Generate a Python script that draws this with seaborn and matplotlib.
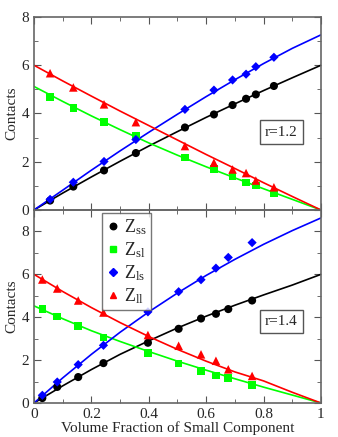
import numpy as np
import pandas as pd
import matplotlib
matplotlib.use("Agg")
import matplotlib.pyplot as plt
from matplotlib.ticker import MultipleLocator
import seaborn as sns

# --- data ---
# simulation points, r = 1.2
x12 = [0.056, 0.137, 0.244, 0.355, 0.526, 0.627, 0.692, 0.739, 0.773, 0.836]
zss12 = [0.39, 0.97, 1.64, 2.36, 3.42, 3.96, 4.35, 4.61, 4.79, 5.14]
zsl12 = [4.69, 4.24, 3.64, 3.06, 2.17, 1.71, 1.39, 1.14, 1.01, 0.69]
zls12 = [0.44, 1.15, 2.01, 2.92, 4.17, 4.97, 5.39, 5.63, 5.94, 6.33]
zll12 = [5.67, 5.08, 4.38, 3.64, 2.65, 1.96, 1.68, 1.53, 1.22, 0.94]

# simulation points, r = 1.4
x14 = [0.029, 0.081, 0.154, 0.242, 0.397, 0.504, 0.582, 0.634, 0.677, 0.760]
zss14 = [0.23, 0.75, 1.21, 1.86, 2.81, 3.46, 3.94, 4.16, 4.38, 4.78]
zsl14 = [4.38, 4.04, 3.59, 3.06, 2.33, 1.85, 1.49, 1.29, 1.18, 0.85]
zls14 = [0.36, 0.98, 1.79, 2.69, 4.25, 5.19, 5.75, 6.29, 6.79, 7.48]
zll14 = [5.76, 5.34, 4.78, 4.22, 3.17, 2.67, 2.27, 1.97, 1.57, 1.26]

# theory curves (read at x = 0, 0.1, ..., 1)
xc = [0.0, 0.1, 0.2, 0.3, 0.4, 0.5, 0.6, 0.7, 0.8, 0.9, 1.0]
css12 = [0.0, 0.70, 1.37, 2.02, 2.65, 3.25, 3.84, 4.40, 4.95, 5.48, 6.00]
csl12 = [5.12, 4.50, 3.90, 3.33, 2.78, 2.27, 1.79, 1.33, 0.88, 0.44, 0.0]
cls12 = [0.0, 0.82, 1.65, 2.45, 3.22, 3.97, 4.70, 5.40, 6.07, 6.70, 7.26]
cll12 = [6.00, 5.35, 4.72, 4.10, 3.50, 2.90, 2.30, 1.72, 1.13, 0.56, 0.0]

css14 = [0.0, 0.80, 1.56, 2.27, 2.90, 3.50, 4.05, 4.56, 5.04, 5.50, 6.00]
csl14 = [4.53, 3.93, 3.37, 2.87, 2.40, 1.95, 1.53, 1.13, 0.74, 0.37, 0.0]
cls14 = [0.0, 1.17, 2.27, 3.30, 4.25, 5.13, 5.95, 6.70, 7.40, 8.04, 8.63]
cll14 = [6.00, 5.20, 4.45, 3.75, 3.10, 2.50, 1.95, 1.45, 1.03, 0.50, 0.0]

labels = [r"Z$_{\mathrm{ss}}$", r"Z$_{\mathrm{sl}}$", r"Z$_{\mathrm{ls}}$", r"Z$_{\mathrm{ll}}$"]
colors = ["black", "#00ff00", "#0000ff", "#ff0000"]
markers = ["o", "s", "D", "^"]
msizes = [34, 30, 22, 38]

sns.set_style("ticks")
plt.rcParams["font.family"] = ["Liberation Serif", "DejaVu Serif"]
plt.rcParams["mathtext.fontset"] = "custom"
plt.rcParams["mathtext.rm"] = "Liberation Serif"
plt.rcParams["mathtext.it"] = "Liberation Serif"

fig = plt.figure(figsize=(3.38, 4.37), dpi=100)
ax1 = fig.add_axes([0.1006, 0.5195, 0.849, 0.4416])
ax2 = fig.add_axes([0.1006, 0.0778, 0.849, 0.4416])


def panel(ax, xp, pts, curves, ymax, tag, tag_y):
    for c, col in zip(curves, colors):
        sns.lineplot(x=xc, y=c, ax=ax, color=col, lw=1.2, estimator=None)
    handles = []
    for p, col, m, s, lab in zip(pts, colors, markers, msizes, labels):
        df = pd.DataFrame({"x": xp, "y": p})
        sns.scatterplot(data=df, x="x", y="y", ax=ax, color=col, marker=m,
                        s=s, edgecolor="none", zorder=3)
        handles.append(plt.Line2D([], [], ls="none", marker=m, color=col,
                                  markersize=np.sqrt(s) * 0.8, label=lab))
    ax.set_xlim(0, 1)
    ax.set_ylim(0, ymax)
    ax.xaxis.set_major_locator(MultipleLocator(0.2))
    ax.xaxis.set_minor_locator(MultipleLocator(0.1))
    ax.yaxis.set_major_locator(MultipleLocator(2))
    ax.yaxis.set_minor_locator(MultipleLocator(1))
    ax.tick_params(which="both", direction="in", top=True, right=True,
                   labelsize=11, color="#555555")
    ax.tick_params(which="major", length=5)
    ax.tick_params(which="minor", length=3)
    for sp in ax.spines.values():
        sp.set_color("#666666")
        sp.set_linewidth(1.2)
    ax.set_ylabel("Contacts", fontsize=11, labelpad=2)
    ax.set_xlabel("")
    ax.text(0.862, tag_y, tag, transform=ax.transAxes, ha="center", va="center",
            fontsize=11,
            bbox=dict(boxstyle="square,pad=0.35", fc="white", ec="#555555", lw=1))
    return handles


panel(ax1, x12, [zss12, zsl12, zls12, zll12], [css12, csl12, cls12, cll12],
      8, "r=1.2", 0.404)
handles = panel(ax2, x14, [zss14, zsl14, zls14, zll14], [css14, csl14, cls14, cll14],
                9, "r=1.4", 0.422)

ax1.set_yticks([0, 2, 4, 6, 8])
ax1.tick_params(labelbottom=False)
ax2.set_yticks([0, 2, 4, 6, 8])
ax2.set_xticks([0, 0.2, 0.4, 0.6, 0.8, 1.0])
ax2.set_xticklabels(["0", "0.2", "0.4", "0.6", "0.8", "1"])
ax2.set_xlabel("Volume Fraction of Small Component", fontsize=11, labelpad=0)

leg = ax2.legend(handles=handles, loc="upper left", bbox_to_anchor=(0.236, 0.985),
                 fontsize=13, frameon=True, fancybox=False, handletextpad=0.2,
                 handlelength=0.8, labelspacing=0.18, borderpad=0.25,
                 borderaxespad=0)
leg.get_frame().set_edgecolor("#555555")
leg.get_frame().set_linewidth(1)
leg.set_zorder(5)

ax1.set_zorder(2)
ax1.patch.set_alpha(0)

fig.savefig("out.png", dpi=100)
